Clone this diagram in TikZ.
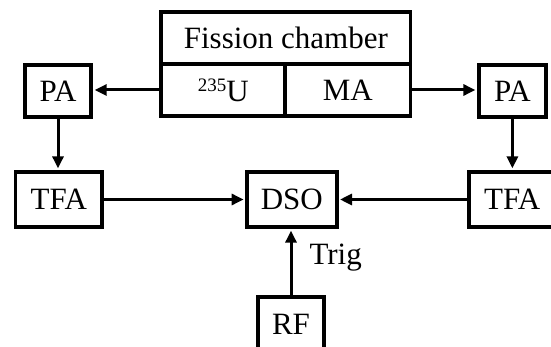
\documentclass[tikz,border=0pt]{standalone}
\usepackage{fontspec}
\setmainfont{Liberation Serif}
\usetikzlibrary{arrows.meta}

\begin{document}
\begin{tikzpicture}[x=1pt, y=-1pt,
  blk/.style={draw, line width=3.8pt, inner sep=0pt, align=center,
    font=\fontsize{31}{36}\selectfont},
  arr/.style={line width=3pt,
    -{Triangle[length=12pt, width=11pt]}, shorten >=1.5pt},
  lbl/.style={font=\fontsize{31}{36}\selectfont, inner sep=0pt}]

  % page frame
  \useasboundingbox (0,0) rectangle (551,347);
  \fill[white] (0,0) rectangle (551,347);
  \clip (0,0) rectangle (551,347);

  % fission chamber with its two deposits
  \node[blk, minimum width=249.2pt, minimum height=51.7pt] (chamber) at (285.9,37.85) {Fission chamber};
  \node[blk, minimum width=124pt, minimum height=52.6pt] (u235) at (223.3,90) {\raisebox{10pt}{\fontsize{19}{19}\selectfont 235}U};
  \node[blk, minimum width=125.2pt, minimum height=52.6pt] (ma) at (347.9,90) {MA};

  % preamplifiers
  \node[blk, minimum width=66.6pt, minimum height=51.7pt] (paL) at (58,91.2) {PA};
  \node[blk, minimum width=67.3pt, minimum height=51.7pt] (paR) at (512.4,91.2) {PA};

  % timing filter amplifiers
  \node[blk, minimum width=86.7pt, minimum height=55.5pt] (tfaL) at (58.8,199.5) {TFA};
  \node[blk, minimum width=87pt, minimum height=55.5pt] (tfaR) at (512.2,199.5) {TFA};

  % oscilloscope and trigger source
  \node[blk, minimum width=89.6pt, minimum height=55.5pt] (dso) at (291.8,199.5) {DSO};
  \node[blk, minimum width=66pt, minimum height=55.5pt] (rf) at (291,324.7) {RF};

  % signal paths
  \draw[arr] (u235.west) -- (u235.west -| paL.east);
  \draw[arr] (ma.east) -- (ma.east -| paR.west);
  \draw[arr] (paL.south) -- (paL.south |- tfaL.north);
  \draw[arr] (paR.south) -- (paR.south |- tfaR.north);
  \draw[arr] (tfaL.east) -- (dso.west);
  \draw[arr] (tfaR.west) -- (dso.east);
  \draw[arr] (rf.north) -- node[lbl, pos=0.57, anchor=west, xshift=17pt] {Trig} (rf.north |- dso.south);
\end{tikzpicture}
\end{document}
